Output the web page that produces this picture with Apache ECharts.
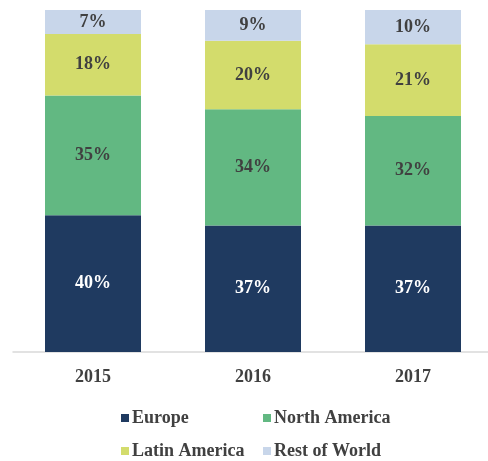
<!DOCTYPE html>
<html>
<head>
<meta charset="utf-8">
<script src="https://cdn.jsdelivr.net/npm/echarts@6/dist/echarts.min.js"></script>
<style>
  html, body { margin: 0; padding: 0; background: #fff; overflow: hidden; }
  #chart { width: 494px; height: 461px; }
</style>
</head>
<body>
<div id="chart"></div>
<script>
  var years = ['2015', '2016', '2017'];
  var europe = [40, 37, 37];
  var northAmerica = [35, 34, 32];
  var latinAmerica = [18, 20, 21];
  var restOfWorld = [7, 9, 10];

  var font = '"Liberation Serif", "Times New Roman", serif';

  function seg(name, data, color, labelColor) {
    return {
      name: name, type: 'bar', stack: 'share', data: data,
      barCategoryGap: '40%',
      itemStyle: { color: color },
      label: {
        show: true, position: 'inside', formatter: '{c}%',
        color: labelColor, fontFamily: font, fontWeight: 'bold', fontSize: 18
      }
    };
  }

  function leg(name, left, top) {
    return {
      data: [name], left: left, top: top, icon: 'rect',
      itemWidth: 8, itemHeight: 8, itemGap: 0,
      textStyle: { fontFamily: font, fontWeight: 'bold', fontSize: 18, color: '#404040', padding: [0, 0, 0, -2] }
    };
  }

  var chart = echarts.init(document.getElementById('chart'));
  chart.setOption({
    animation: false,
    grid: { left: 13, top: 10, width: 480, height: 342 },
    legend: [
      leg('Europe', 116, 404),
      leg('North America', 258, 404),
      leg('Latin America', 116, 437),
      leg('Rest of World', 258, 437)
    ],
    xAxis: {
      type: 'category', data: years,
      axisLine: { lineStyle: { color: '#d9d9d9', width: 1.5 } },
      axisTick: { show: false },
      axisLabel: { margin: 16, color: '#404040', fontFamily: font, fontWeight: 'bold', fontSize: 18 }
    },
    yAxis: { type: 'value', min: 0, max: 100, show: false, splitLine: { show: false } },
    series: [
      seg('Europe', europe, '#1f3a60', '#ffffff'),
      seg('North America', northAmerica, '#62b882', '#404040'),
      seg('Latin America', latinAmerica, '#d3dc6c', '#404040'),
      seg('Rest of World', restOfWorld, '#c8d6ea', '#404040')
    ]
  });
</script>
</body>
</html>
